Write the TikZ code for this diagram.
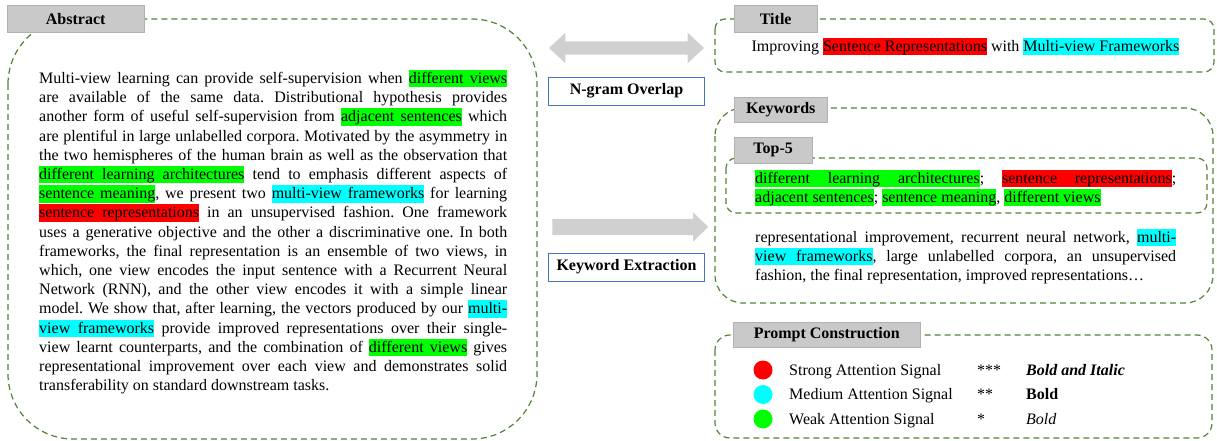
\documentclass[tikz,border=0pt]{standalone}
\usepackage{fontspec}
\setmainfont{Liberation Serif}
\usetikzlibrary{shapes.arrows}
\frenchspacing
\definecolor{framegreen}{HTML}{548235}
\definecolor{tagfill}{HTML}{C9C9C9}
\definecolor{arrowgrey}{HTML}{D0D0D0}
\definecolor{boxblue}{HTML}{4472C4}
\definecolor{hlgreen}{HTML}{00FF00}
\definecolor{hlcyan}{HTML}{00FFFF}
\definecolor{hlred}{HTML}{FF0000}
\newcommand{\hlbox}[2]{{\fboxsep=0pt\colorbox{#1}{\rule[-4pt]{0pt}{17.5pt}#2}}}
\newcommand{\hlspace}[1]{{\color{#1}\leaders\vrule height 13.5pt depth 4pt\hskip\fontdimen2\font plus\fontdimen3\font minus\fontdimen4\font}}
\def\hlwalk#1#2 #3\hlstop{\hlbox{#1}{#2}\ifx\relax#3\relax\else\hlspace{#1}\hlwalk{#1}#3\hlstop\fi}
\newcommand{\hlph}[2]{\hlwalk{#1}#2 \hlstop}
\newcommand{\hlg}[1]{\hlph{hlgreen}{#1}}
\newcommand{\hlc}[1]{\hlph{hlcyan}{#1}}
\newcommand{\hlr}[1]{\hlph{hlred}{#1}}
\tikzset{
    dashframe/.style={draw=framegreen, line width=1.2pt, dash pattern=on 6pt off 4pt, rounded corners=#1},
    dashframe/.default=10pt,
    tag/.style={draw=black!30, fill=tagfill, anchor=north west, inner sep=0pt,
        font=\fontsize{16}{19.2}\selectfont\bfseries},
    namebox/.style={draw=boxblue, line width=0.8pt, minimum width=156pt, minimum height=28pt,
        inner sep=0pt, font=\fontsize{16}{19.2}\selectfont\bfseries},
    body/.style={font=\fontsize{16}{19.2}\selectfont\frenchspacing, inner sep=0pt, anchor=base west},
    para/.style={body, align=justify, text width=#1}
}
\begin{document}
\begin{tikzpicture}[x=1pt,y=-1pt]
    \useasboundingbox (0,0) rectangle (1217,441);
    \draw[dashframe=65pt] (8,19) rectangle (537,439);
    \draw[dashframe] (715,19) rectangle (1214,72);
    \draw[dashframe=28pt] (715,108) rectangle (1213,303);
    \draw[dashframe] (726,158) rectangle (1207,213);
    \draw[dashframe=15pt] (715,335) rectangle (1212,438);
    \node[tag, minimum width=137pt, minimum height=27pt] (abstag) at (7,5) {Abstract};
    \node[tag, minimum width=83pt, minimum height=27pt] (titletag) at (734,5) {Title};
    \node[tag, minimum width=93pt, minimum height=25pt] (keytag) at (734,97) {Keywords};
    \node[tag, minimum width=78pt, minimum height=26pt] (toptag) at (734,137) {Top-5};
    \node[tag, minimum width=187pt, minimum height=25pt] (prompttag) at (733,322) {Prompt Construction};
    \node[para=468pt] (abstext) at (39,83.5) {Multi-view learning can provide self-supervision when \hlg{different views}\linebreak
        are available of the same data. Distributional hypothesis provides\linebreak
        another form of useful self-supervision from \hlg{adjacent sentences} which\linebreak
        are plentiful in large unlabelled corpora. Motivated by the asymmetry in\linebreak
        the two hemispheres of the human brain as well as the observation that\linebreak
        \hlg{different learning architectures} tend to emphasis different aspects of\linebreak
        \hlg{sentence meaning}, we present two \hlc{multi-view frameworks} for learning\linebreak
        \hlr{sentence representations} in an unsupervised fashion. One framework\linebreak
        uses a generative objective and the other a discriminative one. In both\linebreak
        frameworks, the final representation is an ensemble of two views, in\linebreak
        which, one view encodes the input sentence with a Recurrent Neural\linebreak
        Network (RNN), and the other view encodes it with a simple linear\linebreak
        model. We show that, after learning, the vectors produced by our \hlc{multi-}\linebreak
        \hlc{view frameworks} provide improved representations over their single-\linebreak
        view learnt counterparts, and the combination of \hlg{different views} gives\linebreak
        representational improvement over each view and demonstrates solid\linebreak
        transferability on standard downstream tasks.};
    \node[double arrow, fill=arrowgrey, minimum height=155pt, minimum width=30pt, inner xsep=0pt,
        inner ysep=6.5pt, double arrow head extend=8.5pt, double arrow tip angle=86] (overlaparrow) at (626.5,48) {};
    \node[namebox] (ngram) at (626.5,91) {N-gram Overlap};
    \node[single arrow, fill=arrowgrey, minimum height=156pt, minimum width=29pt, inner xsep=0pt,
        inner ysep=8pt, single arrow head extend=6.5pt, single arrow tip angle=88] (extractarrow) at (626,227) {};
    \node[namebox] (kwextract) at (626.5,267) {Keyword Extraction};
    \node[body, anchor=base] (titletext) at (965.5,51.5) {Improving \hlr{Sentence Representations} with \hlc{Multi-view Frameworks}};
    \node[para=421pt] (toptext) at (755,183) {\hlg{different learning architectures}; \hlr{sentence representations};\linebreak
        \hlg{adjacent sentences}; \hlg{sentence meaning}, \hlg{different views}};
    \node[para=421pt] (moretext) at (755,242) {representational improvement, recurrent neural network, \hlc{multi-}\linebreak
        \hlc{view frameworks}, large unlabelled corpora, an unsupervised\linebreak
        fashion, the final representation, improved representations…};
    \foreach \col/\sig/\stars/\look [count=\i] in {hlred/Strong/***/{\textbf{\textit{Bold and Italic}}},
        hlcyan/Medium/**/{\textbf{Bold}}, hlgreen/Weak/*/{\textit{Bold}}}
    {
        \node[circle, fill=\col, minimum size=19pt, inner sep=0pt] (dot\i) at (763,345.5+24.5*\i) {};
        \node[body] (sig\i) at (789,350.5+24.5*\i) {\sig\ Attention Signal};
        \node[body] (mark\i) at (977,350.5+24.5*\i) {\stars};
        \node[body] (look\i) at (1026,350.5+24.5*\i) {\look};
    }
\end{tikzpicture}
\end{document}
